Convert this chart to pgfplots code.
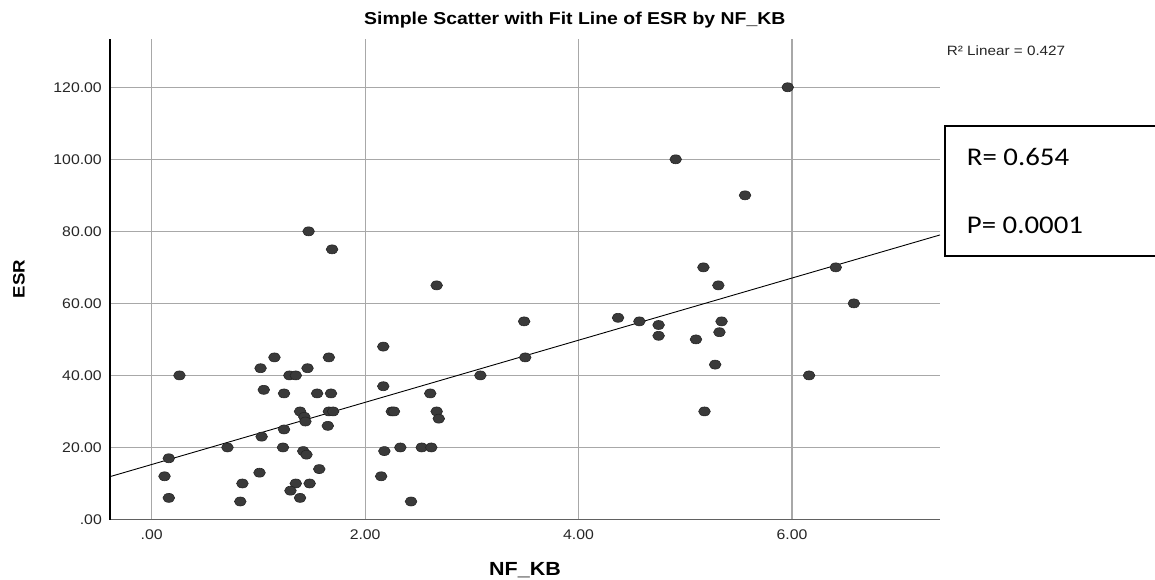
\documentclass[border=0pt]{standalone}
\usepackage{fontspec}
\setmainfont{Liberation Sans}[FakeStretch=1.13]
\newfontfamily\boxfont{Carlito}[FakeStretch=1.13]
\usepackage{pgfplots}
\pgfplotsset{compat=1.18}
\definecolor{gridc}{RGB}{168,168,168}
\definecolor{markc}{RGB}{58,58,58}
\begin{document}
\begin{tikzpicture}[x=1pt,y=1pt]
\useasboundingbox (0,0) rectangle (1155,579);
\begin{axis}[
  at={(110pt,59.5pt)}, anchor=south west,
  scale only axis, width=830pt, height=480.5pt,
  xmin=-0.391, xmax=7.387, ymin=0, ymax=133.4,
  axis x line=bottom, axis y line=left,
  axis line style={-},
  x axis line style={-, draw=black!62, line width=1.6pt},
  y axis line style={-, draw=black, line width=1.8pt},
  xtick={0,2,4,6}, xticklabels={.00,2.00,4.00,6.00},
  ytick={0,20,40,60,80,100,120},
  yticklabels={.00,20.00,40.00,60.00,80.00,100.00,120.00},
  major tick length=0pt,
  grid=major, major grid style={draw=gridc, line width=1.3pt},
  tick label style={font=\fontsize{14}{16}\selectfont, text=black!85, inner sep=0pt},
  yticklabel style={anchor=east, xshift=-8pt},
  xticklabel style={anchor=north, yshift=-10pt},
  title={Simple Scatter with Fit Line of ESR by NF\_KB},
  title style={at={(axis description cs:0.560,1.0173)}, anchor=base, inner sep=0pt,
    font=\bfseries\fontsize{17.2}{20}\selectfont},
  xlabel={NF\_KB},
  xlabel style={at={(axis description cs:0.5,-0.1159)}, anchor=base, inner sep=0pt,
    font=\bfseries\fontsize{19}{22}\selectfont},
  ylabel={ESR},
  ylabel style={at={(axis description cs:-0.1096,0.5)}, anchor=center, inner sep=0pt,
    font=\bfseries\fontsize{16.5}{20}\selectfont},
]
\addplot[black, line width=0.9pt] coordinates {(-0.391,11.9) (7.387,79.0)};
\addplot[only marks, mark=*, mark size=4.5pt,
  mark options={xscale=1.3, fill=markc, draw=black!85, line width=0.6pt}]
  table {
x y
2.67 65
2.17 48
1.15 45
1.66 45
1.02 42
1.46 42
0.26 40
1.29 40
1.35 40
3.08 40
1.05 36
2.17 37
1.24 35
1.55 35
1.68 35
2.61 35
1.39 30
1.66 30
1.70 30
2.25 30
2.27 30
2.67 30
1.43 28.5
1.44 27.2
2.69 28
1.65 26
1.24 25
1.03 23
0.71 20
1.23 20
2.33 20
2.53 20
2.62 20
1.42 19
1.45 18
2.18 19
0.16 17
1.57 14
0.12 12
2.15 12
1.01 13
0.85 10
1.35 10
1.48 10
1.30 8
0.16 6
1.39 6
0.83 5
2.43 5
1.47 80
1.69 75
5.96 120
4.91 100
5.56 90
5.17 70
6.41 70
5.31 65
6.58 60
3.49 55
4.37 56
4.57 55
4.75 54
5.34 55
4.75 51
5.32 52
5.10 50
3.50 45
5.28 43
6.16 40
5.18 30
};
\end{axis}
\draw[line width=1.5pt, fill=white] (945,453) rectangle (1162,323);
\node[anchor=base west, inner sep=0pt, font=\boxfont\fontsize{25.5}{30}\selectfont] at (966.7,413.3) {R= 0.654};
\node[anchor=base west, inner sep=0pt, font=\boxfont\fontsize{25.5}{30}\selectfont] at (966.7,345.7) {P= 0.0001};
\node[anchor=base west, inner sep=0pt, font=\fontsize{13.5}{16}\selectfont, text=black!85] at (946.7,523) {R² Linear = 0.427};
\end{tikzpicture}
\end{document}
